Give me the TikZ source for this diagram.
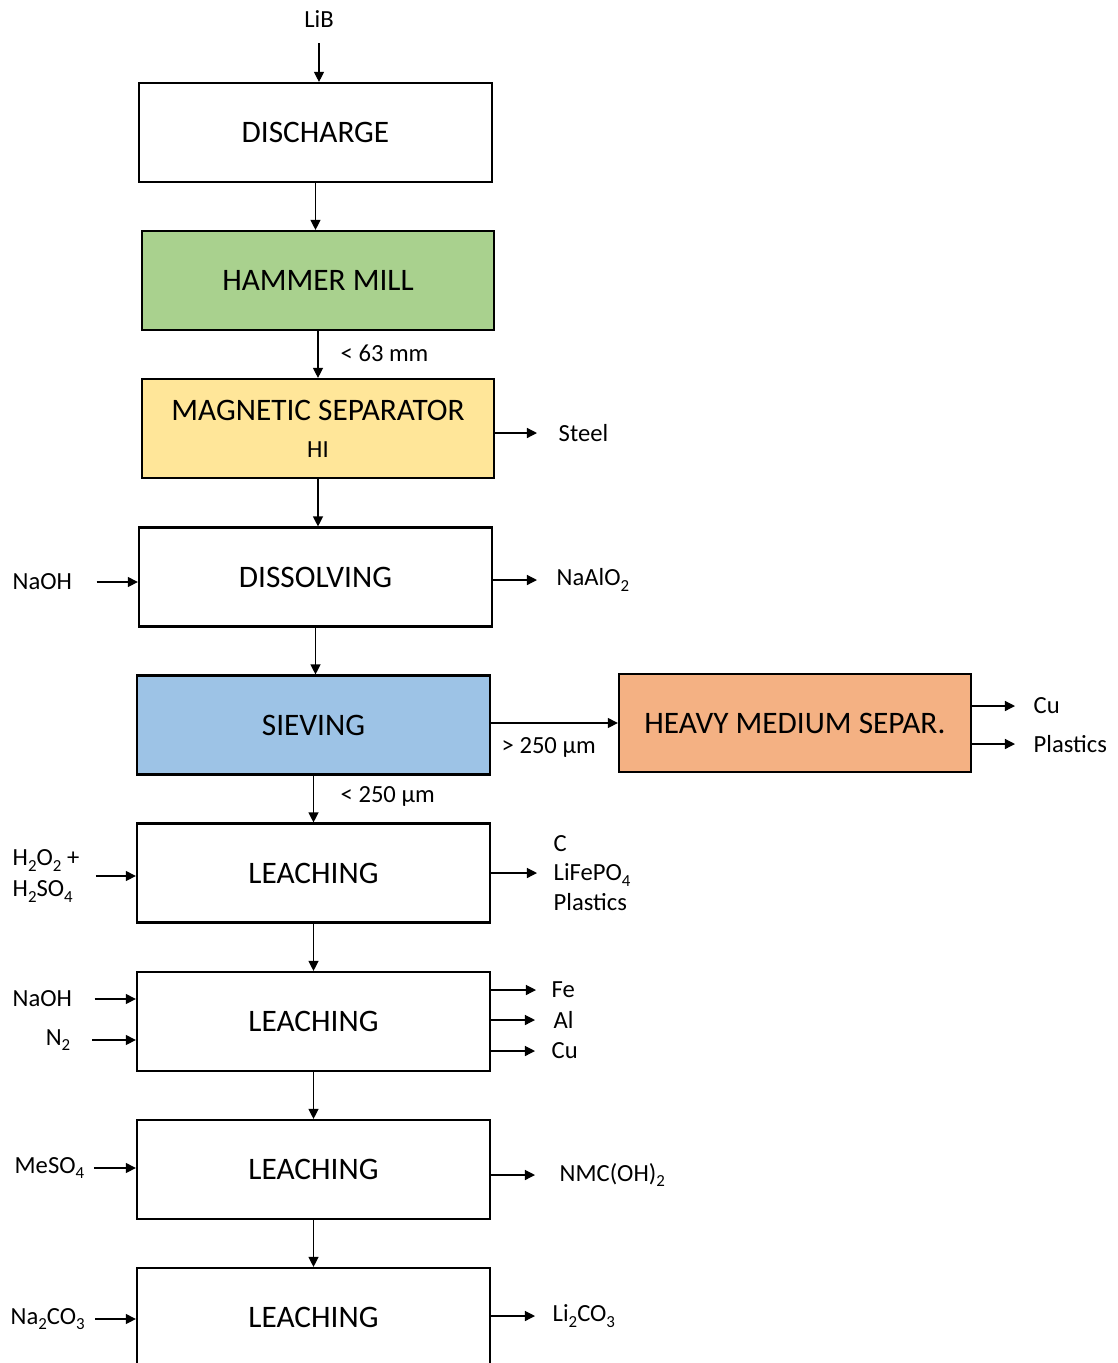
\documentclass[tikz,border=0pt]{standalone}
\usepackage{fontspec}
\setmainfont{Carlito}
\usetikzlibrary{arrows.meta}
\definecolor{millgreen}{HTML}{A9D18E}
\definecolor{magyellow}{HTML}{FFE699}
\definecolor{sieveblue}{HTML}{9DC3E6}
\definecolor{hmsorange}{HTML}{F4B183}
\newcommand\chemsub[1]{\raisebox{-0.45ex}{\fontsize{4.8}{5}\selectfont #1}}
\begin{document}
\begin{tikzpicture}[x=0.01cm,y=-0.01cm,font=\fontsize{7}{8.6}\selectfont,
  unit/.style={draw,line width=0.6pt,minimum width=3.53cm,minimum height=0.99cm,align=center,font=\fontsize{8.9}{10.5}\selectfont},
  flow/.style={line width=0.35pt,-{Triangle[length=1mm,width=1mm]}},
  lbl/.style={inner sep=0pt,anchor=west,align=left}]
\useasboundingbox (0,0) rectangle (1118,1363);
% process units
\node[unit] (discharge) at (315.5,132.5) {DISCHARGE};
\node[unit,fill=millgreen,minimum width=3.52cm] (mill) at (318,280.5) {HAMMER MILL};
\node[unit,fill=magyellow,minimum width=3.52cm] (magsep) at (318,428.5) {MAGNETIC SEPARATOR\\[0pt]{\fontsize{7}{8}\selectfont HI}};
\node[unit] (dissolving) at (315.5,577) {DISSOLVING};
\node[unit,fill=sieveblue] (sieving) at (313.5,725) {SIEVING};
\node[unit,fill=hmsorange,minimum width=3.52cm,minimum height=0.98cm] (hms) at (795,723) {HEAVY MEDIUM SEPAR.};
\foreach \n/\y in {leachA/873,leachB/1021.5,leachC/1169.5,leachD/1317.5} \node[unit] (\n) at (313.5,\y) {LEACHING};
% main line
\node[inner sep=0pt] (lib) at (319,19) {LiB};
\draw[flow,shorten <=1.5mm] (lib) -- (lib |- discharge.north);
\foreach \a/\b in {discharge/mill,mill/magsep,magsep/dissolving,dissolving/sieving,sieving/leachA,leachA/leachB,leachB/leachC,leachC/leachD}
  \draw[flow] (\a.south) -- (\a.south |- \b.north);
\draw[flow] (sieving.east |- hms.west) -- (hms.west);
\node[lbl] (cut63) at (340,353) {< 63 mm};
\node[lbl] (fine) at (340,796) {< 250 µm};
\node[lbl] (coarse) at (501,747) {> 250 µm};
% reagents in
\node[lbl] (naohA) at (12,582) {NaOH};
\node[lbl,font=\fontsize{7}{8.8}\selectfont] (peroxide) at (12,876) {H\chemsub{2}O\chemsub{2} +\\H\chemsub{2}SO\chemsub{4}};
\node[lbl] (naohB) at (12,999) {NaOH};
\node[lbl,anchor=east] (nitrogen) at (71,1040) {N\chemsub{2}};
\node[lbl] (meso) at (14,1168) {MeSO\chemsub{4}};
\node[lbl] (soda) at (10,1319) {Na\chemsub{2}CO\chemsub{3}};
\foreach \lab/\unitname/\gap in {naohA/dissolving/2.4mm,peroxide/leachA/1.6mm,naohB/leachB/2.2mm,nitrogen/leachB/2.1mm,meso/leachC/0.9mm,soda/leachD/1mm}
  \draw[flow,shorten <=\gap] (\lab.east) -- (\lab.east -| \unitname.west);
% products out
\node[lbl] (steel) at (558,433) {Steel};
\node[lbl] (aluminate) at (556,580) {NaAlO\chemsub{2}};
\node[lbl] (hmscu) at (1033,706) {Cu};
\node[lbl] (hmsplast) at (1033,744) {Plastics};
\node[lbl,font=\fontsize{7}{8.5}\selectfont] (residue) at (553,873) {C\\LiFePO\chemsub{4}\\Plastics};
\node[lbl] (fe) at (551,990) {Fe};
\node[lbl] (al) at (553,1020) {Al};
\node[lbl] (cu) at (551,1051) {Cu};
\node[lbl] (nmc) at (559,1175) {NMC(OH)\chemsub{2}};
\node[lbl] (carbonate) at (552,1316) {Li\chemsub{2}CO\chemsub{3}};
\foreach \unitname/\lab/\gap in {magsep/steel/2.1mm,dissolving/aluminate/1.9mm,hms/hmscu/1.8mm,hms/hmsplast/1.8mm,leachA/residue/1.6mm,leachB/fe/1.5mm,leachB/al/1.8mm,leachB/cu/1.6mm,leachC/nmc/2.4mm,leachD/carbonate/1.7mm}
  \draw[flow,shorten >=\gap] (\unitname.east |- \lab.west) -- (\lab.west);
\end{tikzpicture}
\end{document}
